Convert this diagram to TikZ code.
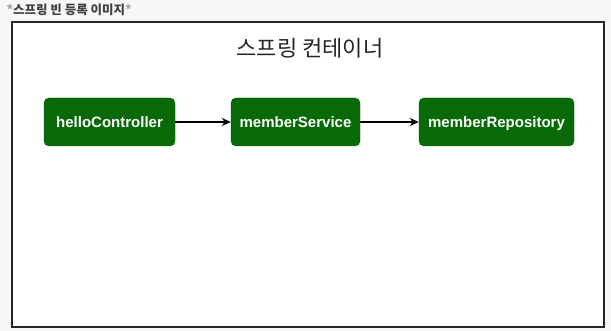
\documentclass[tikz,border=0pt]{standalone}
\usepackage{fontspec}
\setmainfont{Liberation Sans}
\newfontfamily\krfont{Noto Sans CJK KR}
\usepackage{tikz}
\usetikzlibrary{arrows.meta}
\definecolor{beangreen}{HTML}{076A07}
\definecolor{pagegray}{HTML}{F7F7F7}

\begin{document}
\begin{tikzpicture}[x=1pt,y=-1pt,bean/.style={draw=beangreen!80!black,fill=beangreen,text=white,rounded corners=5pt,minimum height=48pt,inner sep=0pt,text height=12pt,text depth=0pt,font=\bfseries\fontsize{15}{17}\selectfont},dep/.style={-{Stealth[length=9pt,width=8pt]},line width=1.4pt}]
\fill[pagegray] (0,0) rectangle (611,331);
\useasboundingbox (0,0) rectangle (611,331);
\node[anchor=west,text=black!75,font=\krfont\bfseries\fontsize{12.5}{14}\selectfont] (title) at (3,10)
   {\textcolor{black!35}{*}스프링 빈 등록 이미지\textcolor{black!35}{*}};
\draw[fill=white,line width=2.6pt,draw=black!85] (12,22) rectangle (604,327);
\node[font=\krfont\fontsize{22}{25}\selectfont,text=black!85] (container) at (310,48) {스프링 컨테이너};
\foreach \n/\x/\w/\t in %
{ctrl/109.5/131/helloController,svc/295.5/129/memberService,repo/496.5/155/memberRepository} {
   \node[bean,minimum width=\w pt] (\n) at (\x,122) {\t};
}
\draw[dep] (ctrl) -- (svc);
\draw[dep] (svc) -- (repo);
\end{tikzpicture}
\end{document}
